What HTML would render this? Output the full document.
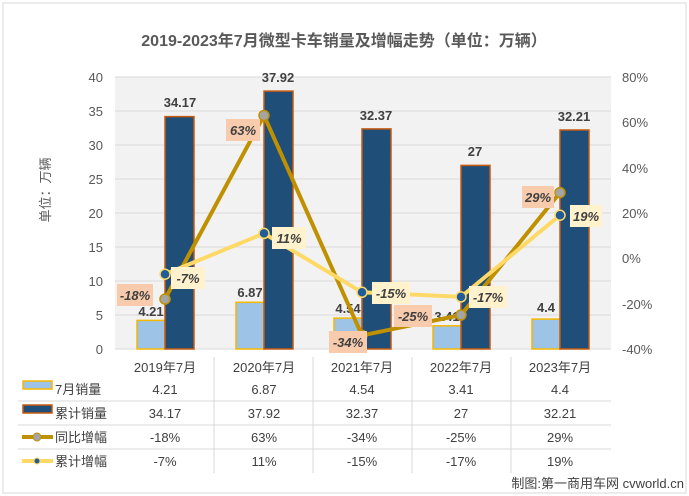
<!DOCTYPE html>
<html><head><meta charset="utf-8"><style>
body{margin:0;background:#fff}
svg{display:block;font-family:"Liberation Sans","Noto Sans CJK SC",sans-serif}
</style></head><body>
<svg width="689" height="496" viewBox="0 0 689 496">
<rect x="3" y="3" width="683" height="490" fill="#fff" stroke="#d9d9d9"/>
<text x="344" y="46" text-anchor="middle" font-size="16" font-weight="bold" fill="#595959">2019-2023年7月微型卡车销量及增幅走势（单位：万辆）</text>
<rect x="115" y="77" width="496" height="272" fill="#f2f2f2"/>
<g stroke="#d9d9d9" stroke-width="1">
<line x1="115" x2="611" y1="77" y2="77"/><line x1="115" x2="611" y1="111" y2="111"/><line x1="115" x2="611" y1="145" y2="145"/><line x1="115" x2="611" y1="179" y2="179"/><line x1="115" x2="611" y1="213" y2="213"/><line x1="115" x2="611" y1="247" y2="247"/><line x1="115" x2="611" y1="281" y2="281"/><line x1="115" x2="611" y1="315" y2="315"/><line x1="115" x2="611" y1="349" y2="349"/>
</g>
<g font-size="13" fill="#595959" text-anchor="end">
<text x="103" y="82">40</text><text x="103" y="116">35</text><text x="103" y="150">30</text><text x="103" y="184">25</text><text x="103" y="218">20</text><text x="103" y="252">15</text><text x="103" y="286">10</text><text x="103" y="320">5</text><text x="103" y="354">0</text>
</g>
<g font-size="13" fill="#595959">
<text x="622" y="82">80%</text><text x="622" y="127">60%</text><text x="622" y="173">40%</text><text x="622" y="218">20%</text><text x="622" y="263">0%</text><text x="622" y="309">-20%</text><text x="622" y="354">-40%</text>
</g>
<text transform="translate(50,190) rotate(-90)" text-anchor="middle" font-size="13" fill="#595959">单位：万辆</text>
<!-- bars -->
<g stroke="#f5b800" stroke-width="1.5" fill="#9dc3e6">
<rect x="137" y="320.4" width="28" height="28.6"/><rect x="236" y="302.3" width="28" height="46.7"/><rect x="334" y="318.1" width="28" height="30.9"/><rect x="433" y="325.8" width="28" height="23.2"/><rect x="532" y="319.1" width="28" height="29.9"/>
</g>
<g stroke="#c55a11" stroke-width="1.5" fill="#1f4e79">
<rect x="165" y="116.6" width="29" height="232.4"/><rect x="264" y="91.1" width="29" height="257.9"/><rect x="362" y="128.9" width="29" height="220.1"/><rect x="461" y="165.4" width="29" height="183.6"/><rect x="560" y="130" width="29" height="219"/>
</g>
<g font-size="13" font-weight="bold" fill="#404040" text-anchor="middle">
<text x="180" y="107">34.17</text><text x="278" y="82">37.92</text><text x="376" y="120">32.37</text><text x="475" y="156">27</text><text x="574" y="121">32.21</text>
<text x="151" y="316">4.21</text><text x="250" y="297">6.87</text><text x="348" y="313">4.54</text><text x="447" y="321">3.41</text><text x="546" y="312">4.4</text>
</g>
<!-- lines -->
<polyline points="165,299.1 264,115.5 362,335.4 461,315 560,192.6" fill="none" stroke="#bf9000" stroke-width="4"/>
<polyline points="165,274.2 264,233.4 362,292.3 461,296.9 560,215.2" fill="none" stroke="#ffd966" stroke-width="4"/>
<g fill="#a5a5a5" stroke="#bf9000" stroke-width="1.5">
<circle cx="165" cy="299.1" r="5"/><circle cx="264" cy="115.5" r="5"/><circle cx="362" cy="335.4" r="5"/><circle cx="461" cy="315" r="5"/><circle cx="560" cy="192.6" r="5"/>
</g>
<g fill="#1f5c99" stroke="#ffd966" stroke-width="1.5">
<circle cx="165" cy="274.2" r="5"/><circle cx="264" cy="233.4" r="5"/><circle cx="362" cy="292.3" r="5"/><circle cx="461" cy="296.9" r="5"/><circle cx="560" cy="215.2" r="5"/>
</g>
<!-- pct labels -->
<g font-size="13" font-weight="bold" font-style="italic" fill="#404040" text-anchor="middle">
<rect x="117" y="284" width="36" height="22" fill="#f8cbad"/><text x="135" y="300">-18%</text>
<rect x="226" y="119" width="34" height="22" fill="#f8cbad"/><text x="243" y="135">63%</text>
<rect x="329" y="331" width="38" height="22" fill="#f8cbad"/><text x="348" y="347">-34%</text>
<rect x="394" y="305" width="38" height="22" fill="#f8cbad"/><text x="413" y="321">-25%</text>
<rect x="522" y="186" width="32" height="22" fill="#f8cbad"/><text x="538" y="202">29%</text>
<rect x="171" y="267" width="34" height="22" fill="#fff2cc"/><text x="188" y="283">-7%</text>
<rect x="272" y="227" width="34" height="22" fill="#fff2cc"/><text x="289" y="243">11%</text>
<rect x="372" y="282" width="38" height="22" fill="#fff2cc"/><text x="391" y="298">-15%</text>
<rect x="469" y="286" width="38" height="22" fill="#fff2cc"/><text x="488" y="302">-17%</text>
<rect x="570" y="205" width="32" height="22" fill="#fff2cc"/><text x="586" y="221">19%</text>
</g>
<!-- table -->
<g stroke="#d9d9d9" stroke-width="1">
<line x1="214" x2="214" y1="357" y2="473"/><line x1="313" x2="313" y1="357" y2="473"/><line x1="412" x2="412" y1="357" y2="473"/><line x1="511" x2="511" y1="357" y2="473"/>
<line x1="18" x2="611" y1="401" y2="401"/><line x1="18" x2="611" y1="425" y2="425"/><line x1="18" x2="611" y1="449" y2="449"/>
</g>
<g font-size="13" fill="#404040" text-anchor="middle">
<text x="165" y="372">2019年7月</text><text x="264" y="372">2020年7月</text><text x="362" y="372">2021年7月</text><text x="461" y="372">2022年7月</text><text x="560" y="372">2023年7月</text>
<text x="165" y="394">4.21</text><text x="264" y="394">6.87</text><text x="362" y="394">4.54</text><text x="461" y="394">3.41</text><text x="560" y="394">4.4</text>
<text x="165" y="418">34.17</text><text x="264" y="418">37.92</text><text x="362" y="418">32.37</text><text x="461" y="418">27</text><text x="560" y="418">32.21</text>
<text x="165" y="442">-18%</text><text x="264" y="442">63%</text><text x="362" y="442">-34%</text><text x="461" y="442">-25%</text><text x="560" y="442">29%</text>
<text x="165" y="466">-7%</text><text x="264" y="466">11%</text><text x="362" y="466">-15%</text><text x="461" y="466">-17%</text><text x="560" y="466">19%</text>
</g>
<rect x="23" y="381" width="29" height="8" fill="#9dc3e6" stroke="#f5b800" stroke-width="1.5"/>
<rect x="23" y="405" width="29" height="8" fill="#1f4e79" stroke="#c55a11" stroke-width="1.5"/>
<line x1="22" x2="53" y1="437" y2="437" stroke="#bf9000" stroke-width="4"/><circle cx="37" cy="437" r="4" fill="#a5a5a5" stroke="#bf9000"/>
<line x1="22" x2="53" y1="461" y2="461" stroke="#ffd966" stroke-width="4"/><circle cx="37" cy="461" r="3" fill="#1f5c99" stroke="#ffd966"/>
<g font-size="13" fill="#404040">
<text x="55" y="394">7月销量</text><text x="55" y="418">累计销量</text><text x="55" y="442">同比增幅</text><text x="55" y="466">累计增幅</text>
</g>
<text x="684" y="488" text-anchor="end" font-size="13" fill="#404040">制图:第一商用车网 cvworld.cn</text>
</svg>
</body></html>
